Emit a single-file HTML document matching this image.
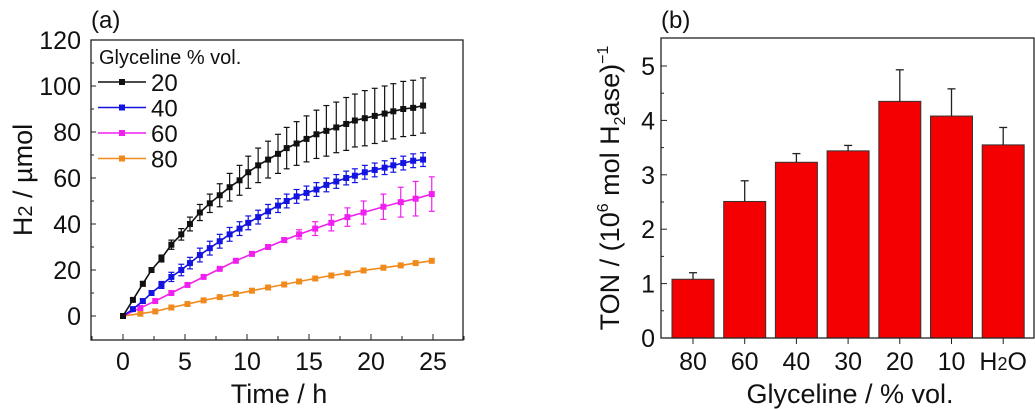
<!DOCTYPE html>
<html><head><meta charset="utf-8"><style>
body{margin:0;background:#fff}
svg{display:block;font-family:"Liberation Sans",sans-serif}
</style></head><body>
<svg id="c" width="1035" height="409" viewBox="0 0 1035 409"></svg>
<script>
const tA=[0,0.8,1.6,2.3,3.1,3.9,4.7,5.4,6.2,7,7.8,8.6,9.4,10.1,10.9,11.7,12.5,13.2,14,14.8,15.6,16.4,17.2,18,18.7,19.5,20.3,21.1,21.8,22.6,23.4,24.2];
const s20=[0,7,14,20,25,31,35.5,40,45,49,52.5,56,59,62.5,65.5,68,70.5,73,75,77,79,80.5,82,83.5,85,86,87,88,89,90,90.5,91.5];
const e20=[0,0.5,1,1,1.5,2,2.5,3,3.5,4,5,6,6.5,7,7.5,8,8.5,9,9.5,10,10.5,11,11,11.5,11.5,12,12,12,12,12,12,12];
const s40=[0,3,6.5,10,13.5,17,20,23,26.5,29.5,32.5,35.5,38,40.5,43,45.5,48,50,52,53.5,55,57,58.5,60,61,62.5,63.5,64.5,65.5,66.5,67.5,68];
const e40=[0,0.5,1,1,1.5,2,2.5,2.5,3,3,3,3,3,3,3,3,3,3,3,3,3,3,3,3,3,3,3,3,3,3,3,3];
const tB=[0,1.4,2.6,3.9,5.2,6.5,7.8,9.1,10.4,11.7,13,14.2,15.5,16.8,18.1,19.4,21,22.4,23.6,24.9];
const s60=[0,3.5,6.5,10,13.5,17,20.5,24,27,30,33,35.5,38,40.5,43,45,47.5,49.5,51,53];
const e60=[0,0.3,0.5,0.5,0.5,0.5,0.5,0.5,0.5,0.5,1,2,3,3.5,4,5,5.5,6.5,7.5,7.5];
const s80=[0,1,2,3.7,5.2,6.8,8.2,9.6,11,12.4,13.7,15,16.3,17.6,18.6,19.8,21,22,23,24];
const seriesNames=['20','40','60','80'];
const barCats=['80','60','40','30','20','10','H2O'];
const barVals=[1.08,2.51,3.23,3.44,4.35,4.08,3.55];
const barErr=[0.12,0.38,0.16,0.1,0.58,0.5,0.32];

const NS='http://www.w3.org/2000/svg';
const svg=document.getElementById('c');
function mk(tag,at,parent){const e=document.createElementNS(NS,tag);for(const k in at)e.setAttribute(k,at[k]);(parent||svg).appendChild(e);return e;}
function txt(x,y,s,size,anchor,parent){const e=mk('text',{x:x,y:y,'font-size':size,'text-anchor':anchor||'middle',fill:'#111'},parent);e.textContent=s;return e;}

const ax=t=>123+t*12.4, ay=v=>316-v*2.3;
const gA=mk('g',{});


let r=mk('rect',{x:91,y:40,width:372,height:300,fill:'none',stroke:'#222','stroke-width':1.3},gA);

for(let v=0;v<=120;v+=20){mk('line',{x1:91,x2:96,y1:ay(v),y2:ay(v),stroke:'#222'},gA);
 let t=txt(81,ay(v)+9,String(v),25,'end',gA);}
for(let v=10;v<=110;v+=20)mk('line',{x1:91,x2:94,y1:ay(v),y2:ay(v),stroke:'#222'},gA);
for(let v=0;v<=25;v+=5){mk('line',{x1:ax(v),x2:ax(v),y1:340,y2:334,stroke:'#222'},gA);
 let t=txt(ax(v),370,String(v),25,'middle',gA);}
for(let v=-2.5;v<=27.5;v+=5)mk('line',{x1:ax(v),x2:ax(v),y1:340,y2:336,stroke:'#222'},gA);
let xt=txt(279,403,'Time / h',27,'middle',gA);
let yt=mk('text',{x:0,y:0,'font-size':27,'text-anchor':'middle',fill:'#111',transform:'translate(32,180) rotate(-90)'},gA);
yt.innerHTML='H<tspan font-size="20">2</tspan> / µmol';

let la=txt(91,28,'(a)',24,'start',gA);

function series(ts,vs,es,col,name){
 const g=mk('g',{},gA);
 
 
 mk('polyline',{points:ts.map((t,i)=>ax(t)+','+ay(vs[i])).join(' '),fill:'none',stroke:col,'stroke-width':1.6},g);
 ts.forEach((t,i)=>{const x=ax(t),y=ay(vs[i]);
  if(es&&es[i]>0.6){const e=es[i]*2.3;
   mk('line',{x1:x,x2:x,y1:y-e,y2:y+e,stroke:col,'stroke-width':1.2},g);
   mk('line',{x1:x-3,x2:x+3,y1:y-e,y2:y-e,stroke:col,'stroke-width':1.2},g);
   mk('line',{x1:x-3,x2:x+3,y1:y+e,y2:y+e,stroke:col,'stroke-width':1.2},g);}
  const p=mk('rect',{x:x-3,y:y-3,width:6,height:6,fill:col},g);
  });
}
series(tB,s80,null,'#f08a1c','80');
series(tB,s60,e60,'#f020f0','60');
series(tA,s40,e40,'#1414e0','40');
series(tA,s20,e20,'#111','20');

const lg=mk('g',{},gA);

txt(99,64,'Glyceline % vol.',20,'start',lg);
const lcol=['#111','#1414e0','#f020f0','#f08a1c'];
seriesNames.forEach((n,i)=>{const y=82+i*25.5;
 const e=mk('g',{},lg);
 mk('line',{x1:98,x2:146,y1:y,y2:y,stroke:lcol[i],'stroke-width':1.6},e);
 mk('rect',{x:119,y:y-3,width:6,height:6,fill:lcol[i]},e);
 txt(151,y+9,n,24,'start',e);});

const gB=mk('g',{});

const by=v=>338-v*54.4, bx=i=>693+i*51.7;
for(let v=0;v<=5;v++){mk('line',{x1:661,x2:667,y1:by(v),y2:by(v),stroke:'#222'},gB);
 let t=txt(655,by(v)+9,String(v),25,'end',gB);}
for(let v=0.5;v<=5;v+=1)mk('line',{x1:661,x2:664,y1:by(v),y2:by(v),stroke:'#222'},gB);
barVals.forEach((v,i)=>{const x=bx(i);
 const b=mk('rect',{x:x-21,y:by(v),width:42,height:by(0)-by(v),fill:'#f50000',stroke:'#333','stroke-width':1},gB);
 
 const yt=by(v+barErr[i]);
 mk('line',{x1:x,x2:x,y1:by(v),y2:yt,stroke:'#222','stroke-width':1.3},gB);
 mk('line',{x1:x-4,x2:x+4,y1:yt,y2:yt,stroke:'#222','stroke-width':1.3},gB);
 mk('line',{x1:x,x2:x,y1:338,y2:344,stroke:'#222'},gB);
 let t=mk('text',{x:x,y:370,'font-size':25,'text-anchor':'middle',fill:'#111'},gB);
 if(barCats[i]==='H2O')t.innerHTML='H<tspan font-size="18">2</tspan>O';else t.textContent=barCats[i];
 });
let rb=mk('rect',{x:661,y:38,width:373,height:300,fill:'none',stroke:'#222','stroke-width':1.3},gB);

let xb=txt(850,403,'Glyceline / % vol.',27,'middle',gB);
let yb=mk('text',{x:0,y:0,'font-size':27,'text-anchor':'middle',fill:'#111',transform:'translate(619,188) rotate(-90)'},gB);
yb.innerHTML='TON / (10<tspan font-size="16" dy="-11">6</tspan><tspan dy="11"> mol H</tspan><tspan font-size="16" dy="6">2</tspan><tspan dy="-6">ase)</tspan><tspan font-size="16" dy="-11">−1</tspan>';

let lb=txt(661,28,'(b)',24,'start',gB);
</script>
</body></html>
